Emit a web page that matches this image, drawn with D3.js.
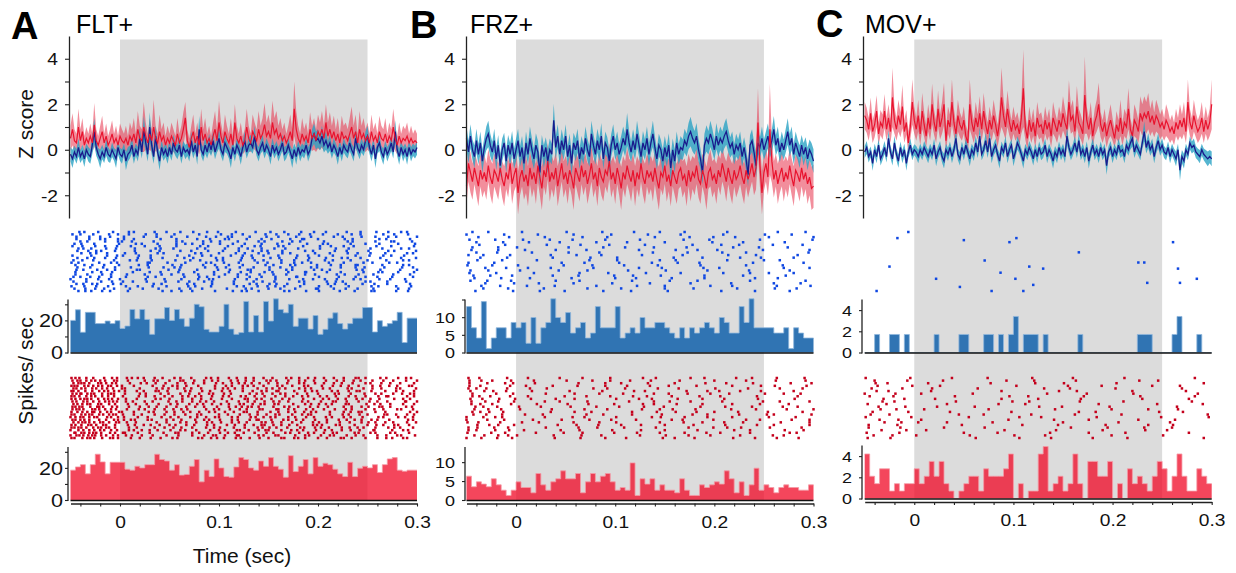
<!DOCTYPE html>
<html><head><meta charset="utf-8">
<script src="https://cdn.jsdelivr.net/npm/d3@7"></script>
<style>body{margin:0;background:#fff}svg text{font-family:"Liberation Sans",Arial,Helvetica,sans-serif}</style>
</head><body><svg id="chart" width="1236" height="573"></svg>
<script>
// ---------------- DATA ----------------
const panelIds = ["A","B","C"];
const panelTitles = ["FLT+","FRZ+","MOV+"];
const zTimesMs = d3.range(-50, 301, 2);        // z-score samples (ms)
const binStartsMs = d3.range(-50, 300, 5);     // 5 ms histogram bins (ms)
const zTickValues = [-2,-1,0,1,2,3,4];
const zTickLabels = [-2,0,2,4];
const xTickValues = [-0.04,-0.02,0,0.02,0.04,0.06,0.08,0.1,0.12,0.14,0.16,0.18,0.2,0.22,0.24,0.26,0.28,0.3];
const xTickLabels = [0,0.1,0.2,0.3];

// Z scores (mean and SEM)
const zA_red = [0.5,0.9,0.4,0.3,1.0,0.4,0.8,0.2,0.5,0.3, 0.6,0.3,1.1,0.4,0.2,0.5,0.8,0.3,0.6,0.2, 0.4,0.7,0.3,0.5,0.2,0.6,0.4,0.3,0.5,0.2, 0.6,0.4,0.7,0.3,0.9,0.5,0.4,1.0,0.6,0.3, 0.7,0.4,1.0,0.5,0.3,0.8,0.4,0.6,0.2,0.5, 0.3,0.6,0.4,0.2,0.7,0.3,0.5,0.9,1.4,0.4, 0.1,0.5,0.8,0.3,0.6,0.2,1.0,0.4,0.7,0.3, 0.5,0.2,0.6,0.9,0.4,1.2,0.6,0.3,0.8,0.5, 0.3,0.7,0.2,1.2,0.5,0.3,0.6,0.2,0.4,1.0, 0.5,0.3,0.8,0.6,0.4,0.9,0.5,0.7,1.1,0.6, 0.8,0.5,1.2,0.7,0.9,0.5,0.7,0.4,0.6,0.3, 0.5,0.8,0.4,1.8,0.9,0.5,0.3,0.7,0.4,0.6, 0.3,0.9,0.5,0.7,0.4,0.8,0.6,0.9,0.5,1.2, 0.6,0.9,0.5,0.8,0.4,0.7,0.3,0.8,0.5,0.6, 0.4,0.7,1.0,0.5,0.8,0.3,0.9,0.5,0.7,0.4, 0.6,0.3,0.8,0.4,0.6,0.3,0.8,0.5,0.4,0.7, 0.3,0.6,0.4,1.0,0.5,0.2,0.6,0.3,0.5,0.4, 0.6,0.3,0.5,0.3,0.4,0.3];
const zA_redSem = [.55,.7,.5,.4,.8,.5,.6,.4,.5,.4, .55,.4,.95,.5,.4,.55,.7,.4,.55,.4, .5,.6,.4,.55,.4,.55,.5,.4,.55,.4, .6,.5,.7,.4,.8,.55,.5,1.1,.6,.4, .7,.5,1.2,.55,.4,.75,.5,.6,.4,.55, .4,.6,.5,.4,.7,.4,.55,.75,.7,.5, .4,.55,.75,.4,.6,.4,.8,.5,.7,.4, .55,.4,.6,.8,.5,.95,.6,.4,.75,.55, .4,.7,.4,.8,.55,.4,.6,.4,.5,.8, .55,.4,.75,.6,.5,.8,.55,.7,.95,.6, .75,.55,.95,.7,.8,.55,.7,.5,.6,.4, .55,.75,.5,1.2,.8,.55,.4,.7,.5,.6, .4,.75,.55,.7,.5,.75,.6,.8,.55,.8, .6,.75,.55,.7,.5,.7,.4,.7,.55,.6, .5,.7,.9,.55,.75,.4,.8,.55,.7,.5, .6,.4,.75,.5,.6,.4,.7,.55,.5,.7, .4,.6,.5,.8,.55,.4,.6,.4,.55,.5, .6,.4,.55,.4,.5,.4];
const zA_blue = [-0.2,-0.4,-0.1,-0.3,0.1,-0.3,-0.1,-0.4,0.0,-0.2, -0.3,0.2,0.8,0.1,-0.2,-0.4,-0.1,-0.3,0.1,-0.2, -0.3,0.0,-0.2,-0.4,0.1,-0.2,-0.3,0.0,-0.5,-0.2, -0.1,0.2,-0.3,0.0,-0.2,0.5,-0.1,0.9,0.3,-0.2, 1.0,0.2,-0.3,0.6,-0.1,-0.5,0.1,-0.2,0.0,-0.3, 0.1,-0.2,0.3,0.0,-0.1,0.2,-0.3,0.1,-0.1,0.0, -0.2,0.4,-0.1,0.2,-0.3,0.9,0.0,-0.2,0.2,-0.1, 0.3,0.0,0.4,-0.1,0.2,0.5,0.0,-0.2,0.3,0.1, -0.1,-0.4,0.1,-0.2,0.2,0.0,-0.3,0.1,0.4,-0.1, 0.2,0.3,0.1,0.6,0.0,-0.2,0.1,0.3,-0.1,0.2, 0.0,-0.3,0.2,-0.1,0.1,-0.2,0.0,0.3,-0.2,-0.1, 0.2,-0.1,-0.4,0.0,-0.3,0.1,-0.2,0.0,-0.1,0.2, -0.2,0.0,0.5,0.7,0.4,0.5,0.3,0.6,0.2,0.4, 0.1,0.3,-0.1,0.2,0.0,-0.3,0.1,-0.2,0.2,0.0, -0.1,0.3,0.0,-0.2,0.5,0.1,-0.1,0.2,0.0,0.4, 0.6,0.1,-0.2,0.2,-0.4,0.1,0.3,-0.1,-0.3,0.1, -0.2,0.0,0.3,-0.1,0.8,0.0,-0.3,0.1,-0.2,0.0, -0.3,0.1,-0.2,0.0,-0.1,0.1];
const zA_blueSem = [.32,.4,.28,.32,.4,.28,.32,.36,.28,.32, .32,.4,.58,.36,.28,.4,.32,.28,.36,.32, .28,.32,.28,.4,.32,.28,.32,.28,.4,.32, .28,.36,.32,.28,.32,.45,.28,.58,.4,.32, .65,.4,.32,.45,.28,.4,.32,.28,.32,.32, .32,.28,.36,.28,.32,.36,.32,.28,.32,.28, .32,.4,.28,.32,.36,.58,.28,.32,.36,.28, .4,.28,.4,.32,.32,.45,.28,.32,.4,.28, .28,.4,.28,.32,.32,.28,.36,.28,.4,.28, .32,.36,.28,.45,.28,.32,.28,.36,.28,.32, .28,.36,.32,.28,.28,.32,.28,.36,.32,.28, .32,.28,.4,.28,.36,.28,.32,.28,.28,.32, .32,.28,.4,.45,.4,.4,.32,.45,.32,.4, .28,.36,.28,.32,.28,.36,.28,.32,.32,.28, .28,.36,.28,.32,.4,.28,.32,.32,.28,.4, .45,.28,.32,.32,.4,.28,.36,.28,.36,.28, .32,.28,.36,.28,.5,.28,.36,.28,.32,.28, .36,.28,.32,.28,.28,.32];

const zB_red = [-1.6,-0.6,-1.0,-1.4,-0.8,-1.2,-1.6,-0.9,-1.3,-1.0, -1.4,-0.7,-1.2,-1.5,-0.9,-1.1,-1.4,-0.8,-1.3,-1.6, -1.0,-1.3,-0.6,-1.5,-1.1,-0.8,-1.9,-1.2,-0.9,-1.4, -1.1,-1.6,-0.8,-1.3,-1.0,-1.5,-0.7,-1.2,-1.7,-0.9, -1.2,-0.5,-1.4,-1.0,-1.3,-0.8,-1.6,-1.1,-0.6,-1.3, -1.0,-1.5,-0.9,-1.2,-1.7,-0.8,-1.1,-1.4,-0.7,-1.2, -0.9,-1.5,-1.1,-0.6,-1.3,-1.0,-1.6,-0.8,-1.2,-1.4, -0.9,-1.1,-0.5,-1.3,-1.0,-1.5,-0.8,-1.2,-1.7,-1.0, -1.3,-0.7,-1.1,-1.4,-0.9,-1.6,-1.0,-1.3,-0.6,-1.2, -1.5,-0.9,-1.2,-1.0,-1.4,-0.8,-1.3,-1.7,-1.0,-1.2, -0.7,-1.4,-1.1,-1.6,-0.9,-1.2,-1.5,-1.0,-0.8,-1.3, -1.1,-1.6,-0.9,-1.4,-1.0,-1.2,-0.7,-1.3,-1.5,-0.9, -1.2,-1.7,-1.0,-0.8,-1.3,-1.1,-1.5,-0.9,-1.2,-0.6, -1.0,-1.4,-0.8,-1.2,-1.5,-0.9,-1.3,-1.1,-0.7,-1.2, -1.5,-0.9,-1.3,-1.0,-0.6,-1.2,-0.8,1.2,-0.7,-1.9, -1.0,-0.6,-1.2,0.9,-0.5,-1.3,-0.9,-1.5,-1.1,-0.8, -1.4,-1.0,-1.3,-0.7,-1.2,-1.6,-0.9,-1.1,-1.4,-0.8, -1.3,-1.0,-1.5,-1.2,-1.7,-1.6];
const zB_redSem = [.8,.8,.88,.8,.72,.8,.88,.72,.8,.8, .8,.72,.8,.88,.72,.8,.8,.72,.8,.88, .72,.8,.8,.88,.72,.8,.95,.8,.72,.8, .8,.88,.72,.8,.72,.88,.72,.8,.95,.72, .8,.8,.88,.72,.8,.72,.88,.8,.8,.8, .72,.88,.72,.8,.95,.72,.8,.88,.8,.8, .72,.88,.8,.8,.8,.72,.88,.72,.8,.88, .72,.8,.8,.8,.72,.88,.72,.8,.95,.72, .8,.8,.72,.88,.72,.88,.72,.8,.8,.8, .88,.72,.8,.72,.88,.72,.8,.95,.72,.8, .8,.88,.72,.88,.72,.8,.88,.72,.8,.8, .72,.88,.72,.88,.72,.8,.8,.8,.88,.72, .8,.95,.72,.8,.8,.72,.88,.72,.8,.8, .72,.88,.72,.8,.88,.72,.8,.72,.8,.8, .88,.72,.8,.72,.8,.8,.95,1.5,.95,.95, .8,.8,.8,2.0,.95,.8,.72,.88,.8,.8, .88,.72,.8,.8,.8,.88,.72,.8,.88,.8, .8,.72,.88,.8,.95,.95];
const zB_blue = [0.5,-0.1,0.6,0.0,-0.3,0.4,-0.2,0.3,-0.5,0.1, 0.5,0.7,0.2,-0.1,0.4,-0.4,0.2,-0.7,0.0,0.3, -0.5,0.2,-0.2,0.3,-0.4,0.0,0.4,-0.3,0.1,-0.6, 0.3,-0.2,0.5,0.0,-0.4,0.2,-0.1,-1.0,0.2,-0.3, 0.1,-0.5,0.0,-0.2,1.3,0.1,0.6,-0.2,0.4,0.0, 0.6,-0.3,0.2,-0.6,0.3,0.0,0.4,-0.4,0.1,-0.2, 0.5,0.0,-0.3,0.7,0.2,-0.2,0.4,0.0,0.6,-0.4, 0.3,0.1,-0.5,0.2,0.6,0.0,0.3,-0.2,0.1,0.5, 0.2,0.9,0.3,-0.1,0.4,0.0,0.7,0.2,-0.3,0.3, 0.0,0.5,-0.2,0.3,0.7,0.1,-0.4,0.2,0.0,-0.5, 0.1,-0.3,0.2,-0.8,0.0,-0.5,0.3,-0.2,0.1,0.0, 0.4,0.2,0.6,0.8,0.5,0.3,0.6,0.0,-0.4,-1.0, 0.2,0.5,0.3,0.7,0.4,0.0,0.6,0.2,0.5,0.3, 0.6,0.8,0.4,0.1,0.3,-0.2,0.2,0.0,0.3,-0.3, 0.1,-0.4,-1.1,0.2,0.4,-0.1,-0.7,0.3,0.1,0.5, 0.0,0.3,0.6,0.1,0.4,0.9,0.2,0.5,-0.1,0.3, 0.0,0.4,0.8,0.2,0.5,-0.2,0.3,0.0,-0.3,0.2, -0.2,0.1,-0.4,0.0,-0.2,-0.5];
const zB_blueSem = [.52,.5,.52,.45,.5,.52,.45,.5,.52,.45, .52,.58,.5,.45,.52,.5,.45,.52,.5,.45, .52,.45,.5,.52,.45,.5,.52,.45,.5,.52, .5,.45,.52,.5,.45,.52,.5,.58,.45,.5, .45,.52,.5,.45,.72,.5,.52,.45,.5,.45, .52,.45,.5,.52,.45,.5,.52,.45,.5,.45, .52,.5,.45,.58,.5,.45,.52,.5,.58,.45, .5,.45,.52,.5,.52,.45,.5,.45,.5,.52, .5,.72,.52,.45,.5,.45,.58,.5,.45,.52, .45,.52,.5,.45,.58,.5,.45,.5,.45,.52, .5,.45,.52,.58,.5,.52,.5,.45,.5,.45, .52,.5,.58,.65,.58,.52,.58,.5,.45,.52, .5,.58,.52,.58,.52,.45,.58,.5,.52,.5, .55,.58,.52,.45,.5,.45,.5,.45,.5,.45, .45,.5,.52,.45,.5,.45,.52,.5,.45,.52, .45,.5,.55,.45,.5,.58,.45,.52,.45,.5, .45,.52,.58,.5,.52,.45,.5,.45,.5,.45, .5,.45,.5,.45,.5,.52];

const zC_red = [1.5,1.3,0.9,1.6,0.8,1.1,1.7,0.7,1.2,1.0, 1.7,0.9,1.4,0.8,2.3,1.3,0.9,1.5,1.1,1.9, 0.8,1.2,0.3,1.0,2.1,1.3,0.9,1.5,0.7,1.7, 1.1,0.6,1.4,0.9,2.0,1.2,0.8,1.8,1.0,1.4, 2.0,0.4,1.3,1.0,2.1,1.2,0.7,1.5,1.1,0.9, 1.3,0.6,0.3,2.0,1.2,0.8,1.4,1.0,1.6,0.9, 1.7,1.1,0.7,1.3,0.9,1.5,1.1,0.6,1.2,2.3, 1.5,1.0,1.8,1.2,0.8,1.3,0.9,1.1,0.7,1.4, 2.7,1.0,0.5,1.3,0.8,1.2,0.6,1.4,1.0,1.1, 0.7,1.3,0.9,1.2,0.6,1.4,1.1,0.8,1.3,1.0, 1.6,1.2,0.9,2.1,1.3,1.5,0.8,1.9,1.2,1.0, 0.7,2.4,1.3,0.9,1.4,0.6,1.2,1.5,2.0,1.1, 0.8,1.2,0.6,1.0,1.3,0.9,0.5,1.1,0.8,1.4, 0.7,1.2,1.0,1.8,0.9,0.6,1.3,1.1,0.8,1.6, 1.3,1.6,1.4,1.7,1.2,1.5,1.1,1.5,1.3,1.0, 1.2,0.9,1.3,1.1,0.8,1.0,0.7,1.2,0.9,1.3, 1.0,1.4,0.8,2.1,1.2,0.9,1.5,1.1,0.8,1.0, 1.4,0.8,1.3,0.9,1.2,2.0];
const zC_redSem = [.6,.55,.5,.7,.5,.55,.7,.5,.55,.55, .75,.5,.6,.5,1.3,.6,.5,.7,.55,.95, .5,.55,.5,.55,1.0,.6,.5,.7,.5,.8, .55,.5,.6,.5,.9,.55,.5,.8,.55,.7, .95,.5,.6,.55,1.0,.6,.5,.7,.55,.5, .6,.5,.5,1.1,.6,.5,.7,.55,.75,.5, .8,.55,.5,.6,.5,.7,.55,.5,.6,1.3, .75,.55,.8,.6,.5,.6,.5,.55,.5,.7, 1.7,.55,.5,.6,.5,.6,.5,.7,.55,.55, .5,.6,.5,.6,.5,.7,.55,.5,.6,.55, .75,.6,.5,.95,.6,.7,.5,.9,.6,.55, .5,1.7,.6,.5,.7,.5,.6,.7,.95,.55, .5,.6,.5,.55,.7,.5,.4,.6,.5,.8, .5,.6,.55,.9,.5,.4,.7,.6,.5,.75, .7,.75,.7,.8,.6,.7,.55,.7,.6,.55, .6,.5,.7,.6,.5,.55,.5,.6,.5,.7, .55,.7,.5,1.0,.6,.5,.7,.55,.5,.55, .7,.5,.6,.5,.6,1.1];
const zC_blue = [-0.1,0.1,-0.3,-0.1,-0.6,0.0,-0.3,0.2,-0.4,-0.2, 0.1,-0.3,0.5,-0.1,-0.4,0.3,-0.2,-0.5,0.1,-0.3, 0.0,-0.6,-0.1,0.2,-0.2,0.0,-0.1,-0.3,0.0,-0.2, 0.1,-0.1,-0.3,0.0,-0.2,0.2,-0.4,-0.1,0.1,-0.3, -0.5,0.0,-0.2,0.1,-0.3,0.0,0.5,-0.2,-0.4,0.1, -0.2,0.2,-0.1,-0.4,0.0,-0.2,0.3,-0.1,0.6,-0.2, 0.0,0.4,-0.1,0.5,-0.3,0.0,0.2,-0.2,-0.5,0.1, -0.1,0.3,-0.3,0.0,0.2,-0.4,-0.1,0.3,0.1,-0.2, -0.5,0.0,-0.2,0.1,-0.1,-0.4,0.0,-0.3,0.1,-0.2, -0.1,0.2,-0.3,0.0,-0.2,-0.5,-0.1,-0.3,0.1,-0.2, 0.0,-0.3,0.6,0.1,-0.2,0.0,0.3,-0.1,0.4,-0.2, 0.0,-0.3,0.1,-0.5,-0.1,0.2,-0.2,0.0,-0.3,0.1, -0.2,0.0,-0.7,-0.1,0.1,-0.3,0.0,-0.2,0.2,-0.1, 0.0,-0.3,0.2,0.0,0.3,0.5,-0.1,0.2,0.0,-0.2, 0.3,0.8,0.1,0.4,0.0,0.2,-0.3,0.1,0.4,0.0, 0.2,-0.1,-0.2,0.1,-0.3,0.0,-0.2,-0.4,0.0,-0.9, -0.3,-0.5,0.0,-0.2,0.3,0.1,0.2,-0.1,-0.2,-0.3, 0.0,-0.2,-0.3,-0.4,-0.3,-0.4];
const zC_blueSem = [.26,.29,.26,.24,.32,.26,.29,.26,.29,.26, .29,.26,.36,.26,.29,.32,.26,.29,.26,.29, .26,.32,.26,.29,.26,.24,.26,.29,.26,.26, .29,.26,.29,.26,.26,.29,.32,.26,.29,.26, .32,.26,.29,.26,.29,.26,.4,.26,.29,.26, .26,.29,.26,.32,.26,.29,.32,.26,.4,.26, .26,.32,.26,.36,.29,.26,.29,.26,.32,.26, .26,.29,.29,.26,.26,.32,.26,.29,.26,.26, .32,.26,.26,.29,.26,.29,.26,.29,.26,.26, .26,.29,.29,.26,.26,.32,.26,.29,.26,.26, .26,.29,.4,.26,.26,.26,.29,.26,.32,.26, .26,.29,.26,.32,.26,.29,.26,.26,.29,.26, .26,.26,.4,.26,.29,.29,.26,.26,.29,.26, .26,.29,.29,.26,.29,.36,.26,.29,.26,.26, .29,.45,.26,.32,.26,.29,.29,.26,.32,.26, .29,.26,.26,.26,.29,.26,.26,.32,.26,.45, .29,.32,.26,.26,.29,.26,.29,.26,.26,.29, .26,.26,.29,.32,.29,.32];

// Histograms (spikes/sec, 5 ms bins)
const histA_blue = [20,26.6,12.6,25,25,18,18,19.6,18,19.8, 15,16.5,26.8,21,26.8,20.6,11.3,21,21,28, 20,26.8,21,16.3,21.4,30,28.5,14.4,12.8,12.8, 16.3,30,14.6,11.3,12.4,31.8,12.8,23,12.8,31.8, 19.6,33.4,26.8,24.7,30,16.3,21.4,21.4,14.6,23, 11.3,14.4,21.4,24.7,18,14.6,18,21.4,21.4,28, 28,12.8,19.8,16.3,18,19.8,25,6.2,21.4,21.4];
const histA_red = [18.6,20.6,22,16.3,22,28.5,23.7,16.3,23.5,23.5, 23.5,19.2,18.6,21,20,22,22,28.5,25.2,24.3, 18.6,22,15.5,15.9,21,25.2,11.3,18.6,14.6,25.6, 20,14.6,14.2,20.6,26.4,25.2,20,18.6,24.3,21, 26.4,21,19.2,14.2,27.6,17.7,21,25.2,16.3,26.4, 21,22.9,22,19.2,16.3,14.6,23.5,14.6,19.8,21, 20,22,17.1,22,25.6,26.4,18.6,17.9,18.6,18.6];
const histB_blue = [13,7,4.1,14.4,1.1,4.1,7,7,4.1,8.5, 7,8.5,2.6,9.9,2.6,7,8.5,15.2,9.9,8.5, 11.3,5.5,7,8.5,4.1,5.5,13,7,7,7, 13,4.1,5.5,7,5.5,9.9,7,7,8.5,8.5, 7,5.5,4.1,7,4.1,7,5.5,7,8.5,7, 5.5,9.9,8.5,5.5,5.5,13,8.5,15.2,7,7, 7,7,5.5,5.5,7,1.1,7,5.5,4.1,4.1];
const histB_red = [6.3,3.5,4.8,4.2,3.5,5.6,4,2.6,1.2,2.6, 4.8,3.3,3.3,1.9,7,4,2.6,4.8,5.6,7.7, 5.6,5.6,7,1.9,4.8,7,4.8,6.3,7,4.8, 2.6,3.3,2.6,9.8,1.2,5.6,4.2,5.6,2.6,4, 2.6,2.6,1.9,5.6,2.6,1.2,1.2,4,3.3,4, 4.8,4.2,7.7,5.6,1.9,4.8,1.2,4,8.4,2.6, 4,3.3,1.9,3.3,4,3.3,3.3,2.6,2.6,4];
const histC_blue = [0,0,1.7,0,0,1.7,1.7,0,1.7,0, 0,0,0,0,1.7,0,0,0,0,1.7, 1.7,0,0,0,1.7,1.7,0,1.7,0,1.7, 3.4,0,1.7,1.7,1.7,0,1.7,0,0,0, 0,0,0,1.7,0,0,0,0,0,0, 0,0,0,0,0,1.7,1.7,1.7,0,0, 0,0,1.7,3.4,0,0,0,1.7,0,0];
const histC_red = [4.2,2.1,1.4,2.8,2.8,0.7,1.4,0.7,1.4,1.4, 2.8,1.4,2.1,3.5,2.1,3.5,1.4,0.7,0,0.7, 1.4,2.1,2.1,0.7,2.8,2.1,2.1,2.1,2.8,4.2, 0,1.4,0,0.7,0.7,4.2,4.9,0.7,1.4,2.1, 0.7,1.4,4.2,1.4,0,3.5,3.5,2.1,2.1,3.5, 0,1.4,0,2.8,1.4,2.1,1.4,0.7,2.1,3.5, 2.8,0.7,2.1,4.2,2.1,0.7,0.7,2.8,2.1,1.4];
const histMaxBlue = [33,15,5];
const histMaxRed = [33,14,5];
const histTicks = [[0,10,20,30],[0,5,10,15],[0,2,4]];
const histTicksRed = [[0,10,20,30],[0,5,10],[0,2,4]];
const histLabels = [[0,20],[0,5,10],[0,2,4]];

// Rasters: one array of spike times (ms) per trial row
const rasterA_blue = [
[137,-22,284,61,9,196,243,-41,88,152,271,35,117,208,-7,259,74,166,229,14,99,290,183,47,-36],
[-27,220,147,9,277,80,-40,170,113,234,37,-11,192,266,124,-48,55,205,158,291,26,-2,102,243,181],
[148,4,271,87,-20,216,109,52,-44,178,300,131,24,244,68,-10,193,160,279,37,-31,97,225,113,258],
[-15,262,106,186,41,-31,227,153,78,293,14,172,-44,235,128,57,200,-20,91,269,143,4,184,110,-2],
[57,-33,146,230,12,182,277,-2,101,63,258,119,-40,206,34,164,295,84,-15,140,235,2,274,174,92],
[262,16,-39,143,84,210,-1,171,298,57,126,233,38,-26,189,101,248,73,-46,159,22,281,114,205,66],
[202,-3,81,165,236,25,-48,109,297,142,57,-25,259,185,11,123,213,-38,89,274,40,160,-15,226,136],
[-42,78,231,120,15,292,167,-14,54,202,143,265,36,-29,180,106,253,86,-4,218,129,284,41,156,-37],
[-32,149,277,15,104,229,-19,61,187,134,299,-43,40,217,89,164,-5,251,120,31,195,-24,271,72,143],
[164,38,-30,212,290,82,-13,117,253,150,5,197,-39,268,100,44,230,-24,172,126,296,16,76,240,140],
[215,58,-13,179,124,266,3,92,-48,238,145,31,201,287,70,-29,160,112,252,19,83,-3,190,274,133],
[43,-26,134,263,97,-15,178,224,31,284,123,-43,65,208,161,-4,243,104,18,191,299,74,-33,152,230],
[32,-38,163,250,81,-6,207,122,286,10,145,-27,233,56,190,98,269,-47,136,215,71,17,176,292,104],
[-9,176,92,255,30,-42,139,211,280,66,-21,120,184,48,246,163,-49,105,272,28,226,87,149,-3,193],
[240,-1,124,53,292,177,-36,96,213,28,147,265,-16,62,199,-45,110,238,172,19,286,84,-28,155,223],
[98,-17,174,247,29,135,285,-43,61,223,151,11,193,-30,267,86,121,238,44,-5,162,296,107,199,55],
[245,111,-5,60,196,-37,151,283,20,129,239,-23,78,174,300,49,-44,212,99,168,17,263,132,-13,204],
[110,265,-28,41,188,154,-8,223,75,297,132,13,246,-45,95,170,281,59,-19,209,122,30,187,261,146],
[-45,106,227,42,168,293,-18,79,141,256,25,187,-33,64,219,128,7,276,95,155,-9,241,52,197,119],
[179,-40,28,238,119,65,-21,296,143,201,6,88,260,-9,157,-47,221,100,36,178,275,131,-30,248,80],
[219,-11,94,138,273,45,-34,185,62,243,157,0,288,116,-22,207,79,171,-50,236,128,26,262,90,195],
[70,-47,253,135,13,225,181,-19,93,289,46,156,218,-8,115,270,27,186,-34,144,85,248,3,209,59],
[93,217,-44,68,158,270,1,131,-23,245,186,34,115,293,-37,75,210,151,-7,257,42,169,228,-28,138],
[-24,201,69,149,-49,254,33,118,182,6,279,92,-12,166,231,139,47,-36,213,76,294,125,18,261,157],
[281,23,-46,127,200,71,162,-16,240,108,39,292,-6,150,216,83,-35,177,256,10,133,60,228,-25,198],
[128,291,52,-35,188,114,257,-10,73,222,8,166,-42,140,237,43,96,279,-18,201,123,62,-29,254,171]];
const rasterA_red = [
[12,-41,173,238,87,-3,294,145,61,206,-27,118,263,35,190,-49,99,226,154,7,281,72,-16,135,248,43,197,-34,110,269,24,168,-8,216,127,55,289,-45,181,92,241,18],
[50,-34,158,219,-15,99,266,135,25,-48,181,243,64,-6,300,112,196,-29,38,148,276,-40,85,226,170,8,-20,255,127,61,-43,208,93,-3,289,152,34,-25,236,119,187,75],
[-19,248,97,169,-42,21,133,273,58,-8,216,181,36,-31,297,113,150,-47,74,235,197,10,-22,264,126,46,-39,159,206,85,283,-4,141,27,-14,253,186,104,-36,224,66,120],
[-36,58,174,295,-18,107,223,145,-49,33,255,190,79,-3,135,-27,280,14,204,164,-43,96,241,53,-12,272,129,186,-32,2,231,113,67,-46,292,159,-9,44,215,124,-22,263],
[65,-44,193,148,2,279,-18,109,230,37,-35,167,255,82,124,-7,212,49,299,-28,154,96,187,-47,264,20,139,72,-13,234,181,5,116,-39,283,58,205,161,-24,43,246,104],
[160,-21,36,279,103,-47,214,143,66,-6,239,187,17,-35,124,268,91,-16,199,48,297,-42,158,231,5,83,-28,176,254,111,-12,39,220,134,-49,286,71,194,-1,148,242,24],
[-12,200,61,-39,162,285,94,-26,233,20,144,-48,258,112,179,-6,41,297,131,-33,80,217,-18,154,264,5,-44,105,189,70,247,-29,138,276,26,-9,221,167,-40,90,293,49],
[184,-25,63,122,271,-46,157,19,231,93,-12,202,45,290,136,-34,76,248,167,3,218,-41,110,53,269,190,-18,127,26,238,82,-6,175,297,146,-29,35,261,104,209,-49,69],
[196,-45,82,245,126,-29,17,171,293,63,-12,220,138,-49,41,262,103,-22,185,153,6,-36,277,211,92,-8,129,36,253,-40,164,228,73,-16,113,286,-33,50,205,143,-2,239],
[252,-11,129,73,-48,218,161,33,288,-27,95,184,6,241,120,-37,57,300,146,-3,203,87,-21,270,170,13,-44,136,229,49,190,-15,108,260,81,-33,155,25,215,-7,289,63],
[-30,156,78,263,-11,201,134,27,297,-47,110,231,58,175,-22,142,8,249,93,-38,286,121,187,39,-5,214,160,70,-43,273,102,16,228,146,-19,193,51,257,125,-33,84,208],
[265,-23,129,-45,76,192,29,251,-8,166,110,295,-38,57,210,140,-17,234,85,-48,180,20,273,123,-30,47,200,155,-3,262,98,-41,133,226,67,9,289,171,-21,117,244,37],
[-28,228,141,45,-44,176,100,266,-9,62,195,284,128,-37,19,217,160,-21,87,248,35,-48,170,296,111,-4,206,54,144,-25,257,188,7,-41,95,234,121,-15,280,68,158,25],
[34,-38,233,106,-1,160,293,71,-26,198,128,241,14,-49,90,177,55,268,-13,139,212,-33,47,300,115,186,-20,80,226,152,2,258,-43,125,29,193,-9,96,244,170,64,-28],
[148,-39,267,22,190,-17,78,231,-46,131,290,55,-28,174,109,250,-4,35,212,-35,157,82,279,-21,121,193,3,-49,242,66,161,-11,297,100,225,-31,45,184,270,-7,139,14],
[-40,71,226,152,-2,119,288,42,188,-23,261,96,18,-50,170,208,132,-13,59,245,100,281,-31,28,157,214,78,-9,137,296,51,-45,177,233,4,113,-26,266,196,87,-37,145],
[229,-6,101,47,185,-36,272,138,15,209,-48,165,85,244,32,-21,119,296,62,153,-40,197,4,260,113,76,-14,221,178,28,-31,291,131,54,237,-2,90,170,-45,254,140,11],
[-4,143,276,61,-38,209,120,7,251,-20,174,88,290,-47,37,195,154,-11,232,102,-31,67,268,183,16,-42,128,244,77,-17,201,163,-35,299,47,113,222,-1,147,258,-26,93],
[108,-32,50,195,277,-14,143,8,222,-45,88,163,259,31,-24,204,126,292,67,-39,179,15,237,146,-5,95,266,40,-49,171,116,218,-17,281,56,155,-29,24,199,135,250,75],
[87,-49,35,203,151,-19,271,115,-34,246,62,182,-5,296,139,-42,9,224,101,-27,169,258,45,-11,197,126,283,-39,73,232,158,-22,17,211,95,-46,277,144,54,-14,186,240],
[-50,118,257,30,179,-16,91,224,147,-37,66,286,9,198,130,-26,242,51,163,-9,275,106,22,214,-42,140,77,256,185,-3,38,121,291,-31,173,61,233,14,100,-20,207,150],
[241,-46,5,116,196,-24,59,273,155,-5,89,219,30,-39,136,258,181,-19,44,109,292,-31,206,167,73,-10,237,125,-45,18,278,148,215,-27,80,190,3,253,-36,101,172,56],
[120,-14,212,33,-41,284,160,97,-25,6,246,140,-50,73,191,269,-7,118,47,229,-32,177,298,85,22,-44,203,145,-19,260,106,59,-37,187,238,12,-2,157,280,94,-28,216],
[79,-7,187,260,-33,131,11,226,163,-46,98,290,53,-18,200,117,275,-38,41,150,-26,234,83,180,-10,286,122,20,-49,209,166,58,248,-2,105,-30,269,141,31,223,92,176]];
const rasterB_blue = [
[213,-28,87,145,6,264,-44,170,119,292,51],[166,-50,58,251,133,-12,22,209,96,278],
[-38,67,199,255,29,-7,140,92,175,300,221],[57,-47,195,125,7,246,-21,90,169,299,34],
[150,-13,271,44,112,198,-40,81,229,13],[-11,225,94,178,31,-37,130,259,207,65,289],
[274,-18,88,139,219,1,-44,172,53,245,110],[9,-45,124,203,71,249,161,-18,296,40,183],
[232,-40,16,138,84,295,173,-19,53,208],[284,-33,35,168,214,86,-6,127,242,61,-48],
[37,-9,188,247,102,-36,159,75,280,226],[145,-14,250,74,-39,213,161,21,102,266],
[46,-22,163,239,104,-48,290,69,185,137],[186,-24,48,109,269,-49,232,143,2,77],
[12,-31,205,147,78,270,-10,189,124,35,296],[72,-28,151,276,4,235,113,-46,193,43],
[-47,131,64,209,280,18,-20,236,93,166,255],[99,-26,272,37,190,146,-4,229,63,-43,118],
[121,-15,241,56,190,-42,264,100,14,157],[-29,40,292,183,117,-5,236,64,155,-46],
[260,-31,97,23,176,135,-2,217,287,58],[-35,81,218,11,150,263,-16,196,39,122,297],
[-8,179,106,261,28,-33,150,223,72,283],[207,-3,116,49,276,153,-41,88,24,241]];
const rasterB_red = [
[44,-37,128,263,190,-9,95,222,12,176,-48,291,141,67,238],[115,-47,232,18,165,-24,292,77,200,136,-5,51,262,-35,95],
[90,-11,277,191,-47,133,19,239,160,-29,63,298,106,-3,212],[-6,154,62,293,218,-36,112,37,182,-47,247,90,135,10,261],
[31,-48,164,289,110,-9,234,78,-30,201,143,14,266,-40,92],[54,-23,205,130,280,-46,16,172,247,-10,87,119,-32,226,193],
[-20,108,251,30,173,-44,215,84,139,287,-3,59,196,154,270],[-44,118,243,49,185,-26,95,284,12,157,-6,206,132,-37,71],
[-34,137,210,59,-1,281,163,101,-46,40,244,188,-17,124,15],[139,-2,44,296,176,-31,249,114,-45,72,208,-18,155,29,266],
[128,-5,246,-45,52,188,99,275,-24,162,21,218,-36,139,73],[81,-41,186,238,3,129,-19,269,104,55,211,-33,149,25,284],
[-15,69,181,242,-42,127,4,273,158,-28,92,217,36,300,145],[-27,76,161,254,-44,35,200,117,289,-13,142,59,224,-36,182],
[27,-43,260,117,193,-14,71,298,147,-30,225,9,178,88,253],[255,-14,69,137,-50,218,29,170,101,-33,282,57,193,-21,146],
[232,-29,17,157,96,-50,278,121,199,46,-12,246,74,168,296],[-49,188,101,23,267,-16,145,58,-38,229,296,169,6,84,210],
[-18,211,83,150,-39,260,42,126,296,-2,179,-27,243,61,106],[199,-8,82,256,30,-39,141,213,-22,109,288,63,-48,174,227],
[220,-40,126,8,-21,183,271,64,-7,236,97,150,-48,45,290],[170,-25,48,206,276,-49,99,145,20,236,-11,192,67,122,283],
[174,-32,1,226,86,-18,270,151,38,-42,196,125,259,-8,66],[263,-35,148,90,-4,219,39,-50,180,111,285,65,-19,241,160]];
const rasterC_blue = [
[-6],[],[],[-17,103],[50],[96,261],[],[],[],[],[166],[],[],[],[71],[226,232],[],[-25,116],[130,266],[],
[87],[],[],[22,102,285],[],[235,268],[120],[46],[],[-38,78,110]];
const rasterC_red = [
[38,-49,160,283,119,-4,212,74],[227,-7,29,163,-40,246,93,121],[14,204,-27,77,151,292,-39,122],
[189,-2,240,103,-37,26,155,268],[64,-43,203,131,-12,270,18,157],[164,-26,17,220,-38,88,274,146],
[221,-19,59,134,-50,286,7,174],[283,-21,96,-45,171,228,41,115],[-10,88,230,168,-31,21,277,125],
[116,-32,280,42,-20,211,167,99],[-28,112,245,85,-47,186,33,291],[-36,23,265,126,197,-9,61,149],
[75,-18,199,-34,266,142,10,236],[-42,166,98,247,-6,36,183,271],[-25,118,45,296,162,-44,209,70],
[-3,106,249,55,-49,184,128,297],[176,7,-35,226,95,263,-16,141],[4,-30,150,206,79,-13,258,33],
[145,-46,48,261,193,-17,109,236],[-14,232,71,-46,158,195,30,260],[91,-33,255,12,190,143,-8,233],
[50,-48,137,213,-15,84,277,176],[251,-22,132,56,199,-41,101,2],[-47,138,62,292,215,-24,106,180]];

// ---------------- LAYOUT / STYLE ----------------
const panels = [
  {zRed:zA_red, zRedSem:zA_redSem, zBlue:zA_blue, zBlueSem:zA_blueSem, rB:rasterA_blue, rR:rasterA_red, hB:histA_blue, hR:histA_red},
  {zRed:zB_red, zRedSem:zB_redSem, zBlue:zB_blue, zBlueSem:zB_blueSem, rB:rasterB_blue, rR:rasterB_red, hB:histB_blue, hR:histB_red},
  {zRed:zC_red, zRedSem:zC_redSem, zBlue:zC_blue, zBlueSem:zC_blueSem, rB:rasterC_blue, rR:rasterC_red, hB:histC_blue, hR:histC_red}];
const layout = [
  {x0:70.5, x1:417, zAxisX:69, hAxisX:68, letterX:11, letterY:39, titleX:76, grayBottom:501, histFont:18, histPad:5, redBottom:500},
  {x0:466.5, x1:813.5, zAxisX:466, hAxisX:465, letterX:410, letterY:38, titleX:470, grayBottom:500, histFont:15, histPad:10, redBottom:500},
  {x0:864.7, x1:1211.7, zAxisX:863, hAxisX:862, letterX:816, letterY:37, titleX:865, grayBottom:498, histFont:15, histPad:10, redBottom:498.5}];
const SX = 1.2; // horizontal stretch of tick labels

const svg = d3.select("#chart");
const zY = d3.scaleLinear().domain([-3,5]).range([218,36]);

function styleAxis(g, fontSize, padX){
  g.attr("font-family",null).attr("font-size",null);
  g.select(".domain").attr("stroke","#222").attr("stroke-width",1.3);
  g.selectAll(".tick line").attr("stroke","#222").attr("stroke-width",1.1);
  g.selectAll(".tick text").attr("fill","#111").style("font-size",fontSize+"px")
    .attr("transform",`scale(${SX},1)`);
  if (padX !== undefined) g.selectAll(".tick text").attr("x", -padX/SX);
}

panels.forEach((p, k) => {
  const L = layout[k];
  const g = svg.append("g");
  const x = d3.scaleLinear().domain([-0.05,0.3]).range([L.x0, L.x1]);

  g.append("rect").attr("x", x(0)).attr("y", 39.5).attr("width", x(0.25)-x(0))
    .attr("height", L.grayBottom-39.5).attr("fill","#dcdcdc");

  const zx = zTimesMs.map(ms => x(ms/1000));
  const band = (m,s) => d3.area().x((d,i)=>zx[i]).y0((d,i)=>zY(m[i]-s[i])).y1((d,i)=>zY(m[i]+s[i]))(m);
  const line = m => d3.line().x((d,i)=>zx[i]).y(d=>zY(d))(m);
  g.append("path").attr("d", band(p.zRed,p.zRedSem)).attr("fill","#e8324a").attr("fill-opacity",0.55);
  g.append("path").attr("d", band(p.zBlue,p.zBlueSem)).attr("fill","#2aa3c4").attr("fill-opacity",0.8);
  g.append("path").attr("d", line(p.zBlue)).attr("fill","none").attr("stroke","#1a1a8c").attr("stroke-width",1.3);
  g.append("path").attr("d", line(p.zRed)).attr("fill","none").attr("stroke","#e8132e").attr("stroke-width",1.2);

  const za = g.append("g").attr("transform",`translate(${L.zAxisX},0)`)
    .call(d3.axisLeft(zY).tickValues(zTickValues).tickSize(4).tickSizeOuter(0)
      .tickFormat(d => zTickLabels.includes(d) ? String(d) : ""));
  styleAxis(za, 16, 11);
  za.selectAll(".tick text").attr("dy","0.36em");

  function raster(rows, top, bottom, color){
    const ry = d3.scaleLinear().domain([0, rows.length-1]).range([top, bottom]);
    const pts = [];
    rows.forEach((row, r) => row.forEach(ms => pts.push({t: ms/1000, r})));
    g.append("g").selectAll("rect").data(pts).join("rect")
      .attr("x", d => x(d.t)-1.25).attr("y", d => ry(d.r)-1.25)
      .attr("width",2.5).attr("height",2.5).attr("fill",color);
  }
  raster(p.rB, 232, 291, "#0f47e2");
  raster(p.rR, 378, 438, "#c4001c");

  function hist(vals, bottom, maxV, fill, opacity, edge, ticks, labels){
    const top = bottom - 53;
    const y = d3.scaleLinear().domain([0, maxV]).range([bottom, top]);
    const pts = vals.map((v,i) => ({t: binStartsMs[i]/1000, v}));
    pts.push({t: (binStartsMs[vals.length-1]+5)/1000, v: vals[vals.length-1]});
    const ar = d3.area().curve(d3.curveStepAfter).x(d=>x(d.t)).y0(y(0)).y1(d=>y(d.v));
    const ln = d3.line().curve(d3.curveStepAfter).x(d=>x(d.t)).y(d=>y(d.v));
    g.append("path").attr("d", ar(pts)).attr("fill", fill).attr("fill-opacity", opacity);
    g.append("path").attr("d", ln(pts)).attr("fill","none").attr("stroke", edge).attr("stroke-width",0.8);
    g.append("line").attr("x1", L.x0).attr("x2", L.x1).attr("y1", y(0)+0.5).attr("y2", y(0)+0.5)
      .attr("stroke","#111").attr("stroke-width",1.5);
    const ax = g.append("g").attr("transform",`translate(${L.hAxisX},0)`)
      .call(d3.axisLeft(y).tickValues(ticks).tickSize(3).tickSizeOuter(0)
        .tickFormat(d => labels.includes(d) ? String(d) : ""));
    ax.select(".domain").attr("d", `M0,${y(0)+1}V${top}`);
    styleAxis(ax, L.histFont, L.histPad);
    ax.selectAll(".tick text").attr("dy","0.36em");
  }
  hist(p.hB, 352.5, histMaxBlue[k], "#3074b3", 1, "#8fb6dc", histTicks[k], histLabels[k]);
  hist(p.hR, L.redBottom, histMaxRed[k], "rgb(240,8,38)", 0.75, "#f59aa6", histTicksRed[k], histLabels[k]);

  const xa = g.append("g").attr("transform",`translate(0,${L.redBottom+3.5})`)
    .call(d3.axisBottom(x).tickValues(xTickValues).tickSize(3).tickSizeOuter(0).tickPadding(10)
      .tickFormat(d => xTickLabels.some(v => Math.abs(v-d) < 1e-9) ? String(+d.toFixed(2)) : ""));
  styleAxis(xa, 16);

  svg.append("text").attr("x", L.letterX).attr("y", L.letterY).text(panelIds[k])
    .style("font-size","38px").style("font-weight","bold").attr("fill","#000");
  svg.append("text").attr("x", L.titleX).attr("y", 33).text(panelTitles[k])
    .style("font-size","25px").attr("fill","#000");
});

svg.append("text").attr("transform","translate(33,124) rotate(-90)").attr("text-anchor","middle")
  .style("font-size","21px").attr("fill","#111").text("Z score");
svg.append("text").attr("transform","translate(33,371) rotate(-90)").attr("text-anchor","middle")
  .style("font-size","21px").attr("fill","#111").text("Spikes/ sec");
svg.append("text").attr("x",242).attr("y",563).attr("text-anchor","middle")
  .style("font-size","21px").attr("fill","#111").text("Time (sec)");
</script></body></html>
